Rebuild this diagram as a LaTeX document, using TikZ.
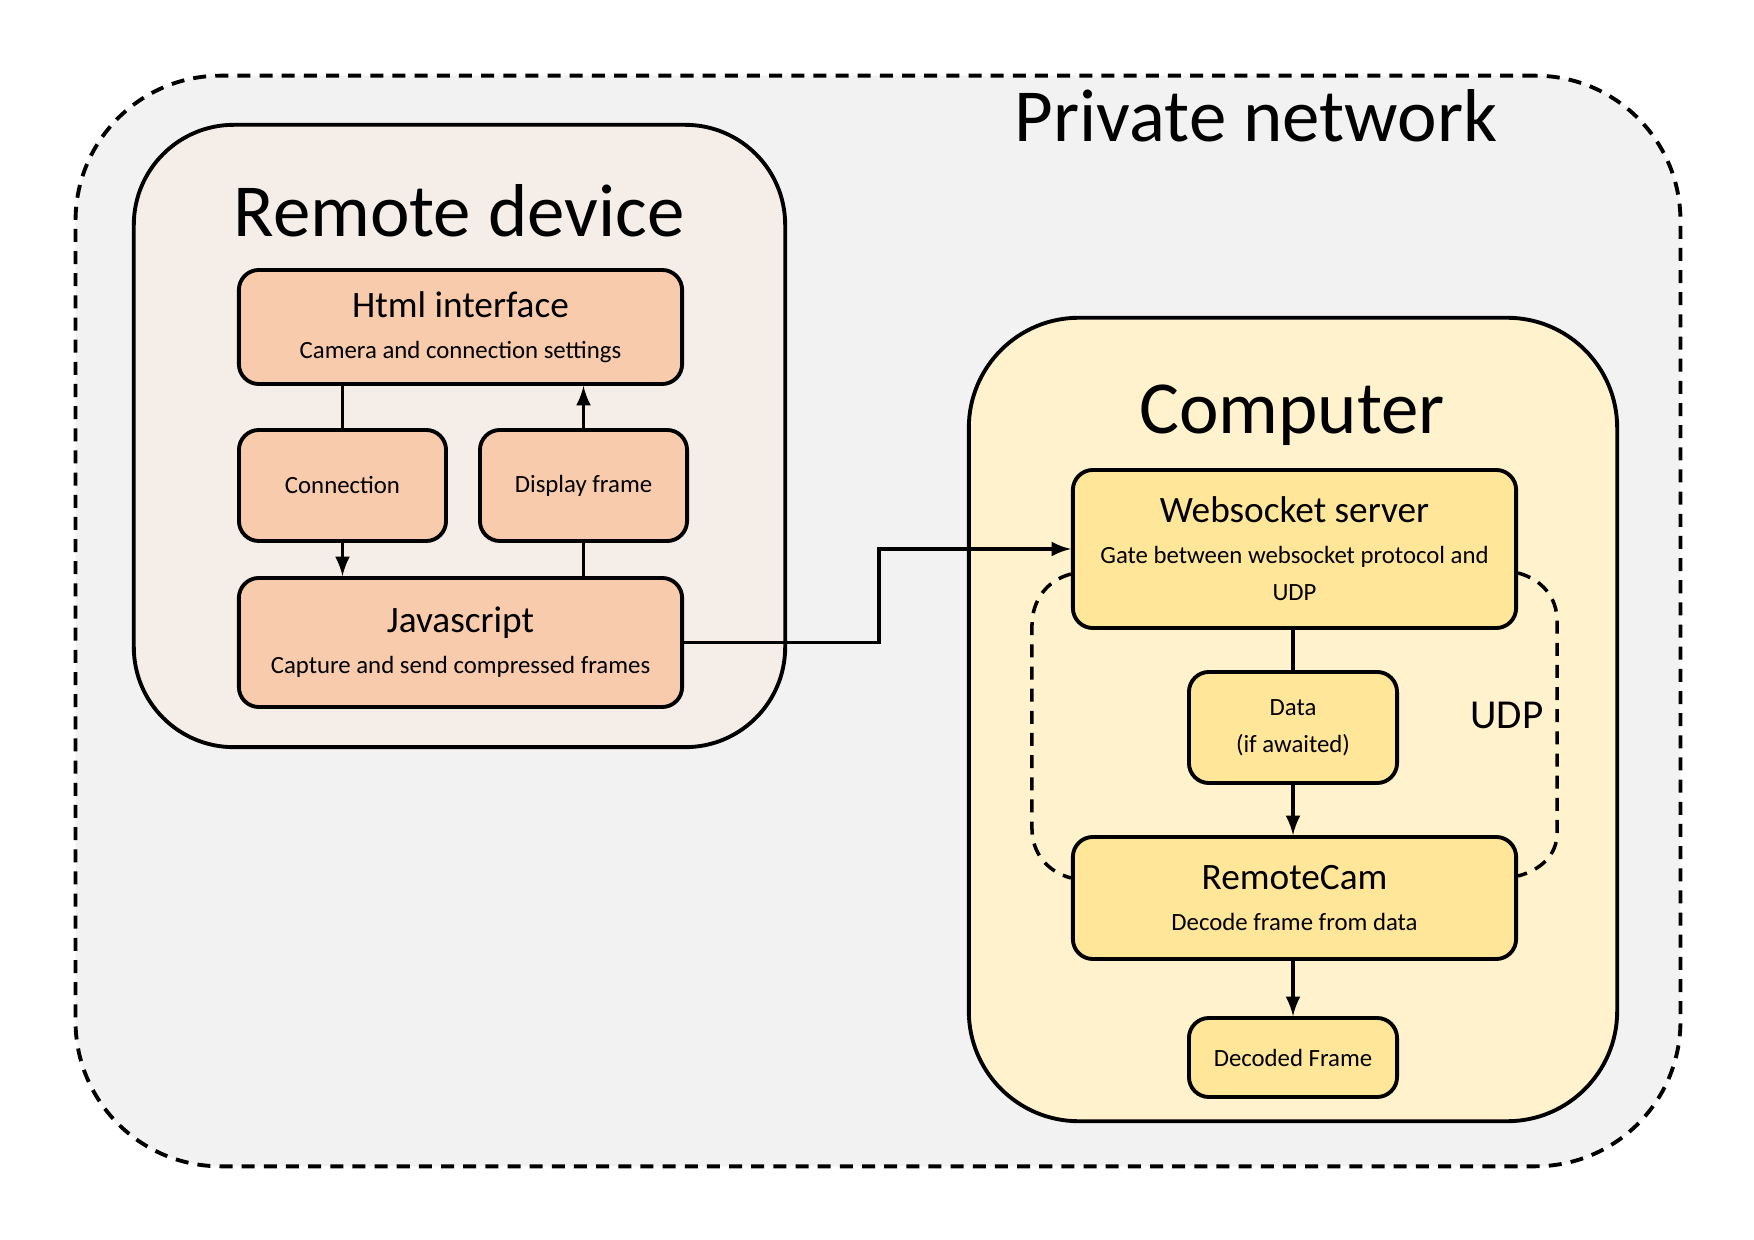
\documentclass[tikz,border=0pt]{standalone}
\usepackage{fontspec}
\setmainfont{Carlito}
\usetikzlibrary{calc}

\newcommand{\bigfont}{\fontsize{21.3}{25}\selectfont}
\newcommand{\headfont}{\fontsize{10.6}{13}\selectfont}
\newcommand{\notefont}{\fontsize{7.05}{10.5}\selectfont}

\definecolor{netgray}{HTML}{F2F2F2}
\definecolor{devicebg}{HTML}{F5EDE8}
\definecolor{peach}{HTML}{F8CBAD}
\definecolor{computerbg}{HTML}{FFF2CC}
\definecolor{gold}{HTML}{FFE699}

\begin{document}
\begin{tikzpicture}[x=0.01cm,y=-0.01cm]
    \tikzstyle{every node}=[font=\notefont]
    \tikzstyle{area}=[draw, line width=1.1pt, inner sep=0pt]
    \tikzstyle{block}=[draw, line width=1.1pt, rounded corners=0.2cm, align=center, inner sep=0pt]
    \tikzstyle{link}=[line width=0.9pt]
    \tikzstyle{arr}=[line width=0.9pt, -latex]
    \tikzstyle{udp}=[line width=1pt, dash pattern=on 3.7pt off 2.6pt]
    \useasboundingbox (0,0) rectangle (1754,1240);

    \node[area, fill=netgray, dash pattern=on 3.7pt off 2.6pt, rounded corners=1.45cm, minimum width=16.04cm, minimum height=10.9cm] (net) at (878,621) {};
    \node[font=\bigfont, anchor=base] (nettitle) at (1256,142) {Private network};

    \node[area, fill=devicebg, rounded corners=1cm, minimum width=6.51cm, minimum height=6.22cm] (device) at (459.5,436) {};
    \node[font=\bigfont, anchor=base] (devicetitle) at (459,237) {Remote device};
    \node[block, fill=peach, minimum width=4.43cm, minimum height=1.14cm] (html) at (460.5,327) {{\headfont Html interface}\\[1.2pt]Camera and connection settings};
    \node[block, fill=peach, minimum width=2.07cm, minimum height=1.11cm] (conn) at (342.5,485.5) {Connection};
    \node[block, fill=peach, minimum width=2.07cm, minimum height=1.11cm] (disp) at (583.5,485.5) {Display frame};
    \node[block, fill=peach, minimum width=4.43cm, minimum height=1.29cm] (js) at (460.5,642.5) {{\headfont Javascript}\\[1.2pt]Capture and send compressed frames};

    \node[area, fill=computerbg, rounded corners=1.1cm, minimum width=6.48cm, minimum height=8.03cm] (computer) at (1293,719.5) {};
    \node[font=\bigfont, anchor=base] (computertitle) at (1292,434) {Computer};
    \node[block, fill=gold, minimum width=4.43cm, minimum height=1.58cm] (ws) at (1294.5,549) {{\headfont Websocket server}\\[1.2pt]Gate between websocket protocol and\\UDP};
    \node[block, fill=gold, minimum width=2.08cm, minimum height=1.11cm] (data) at (1293,727.5) {Data\\(if awaited)};
    \node[block, fill=gold, minimum width=4.43cm, minimum height=1.22cm] (rcam) at (1294.5,898) {{\headfont RemoteCam}\\[1.2pt]Decode frame from data};
    \node[block, fill=gold, minimum width=2.08cm, minimum height=0.79cm] (dec) at (1293,1057.5) {Decoded Frame};
    \node[font=\fontsize{11.7}{14}\selectfont, anchor=base] (udplabel) at (1507,729) {UDP};

    \draw[link] (conn.north |- html.south) -- (conn.north);
    \draw[arr] (conn.south) -- (conn.south |- js.north);
    \draw[link] (disp.south |- js.north) -- (disp.south);
    \draw[arr] (disp.north) -- (disp.north |- html.south);
    \draw[arr] (js.east) -- ++(195,0) |- (ws.west);
    \draw[link] (data.north |- ws.south) -- (data.north);
    \draw[arr] (data.south) -- (data.south |- rcam.north);
    \draw[arr] (dec.north |- rcam.south) -- (dec.north);
    \draw[udp] ($(ws.west)+(0,25)$) to[out=195,in=90] ($(ws.west)+(-39,77)$) -- ($(rcam.west)+(-39,-70)$) to[out=-90,in=165] ($(rcam.west)+(0,-20)$);
    \draw[udp] ($(ws.east)+(0,24)$) to[out=-15,in=90] ($(ws.east)+(39,72)$) -- ($(rcam.east)+(39,-65)$) to[out=-90,in=15] ($(rcam.east)+(0,-22)$);
\end{tikzpicture}
\end{document}
